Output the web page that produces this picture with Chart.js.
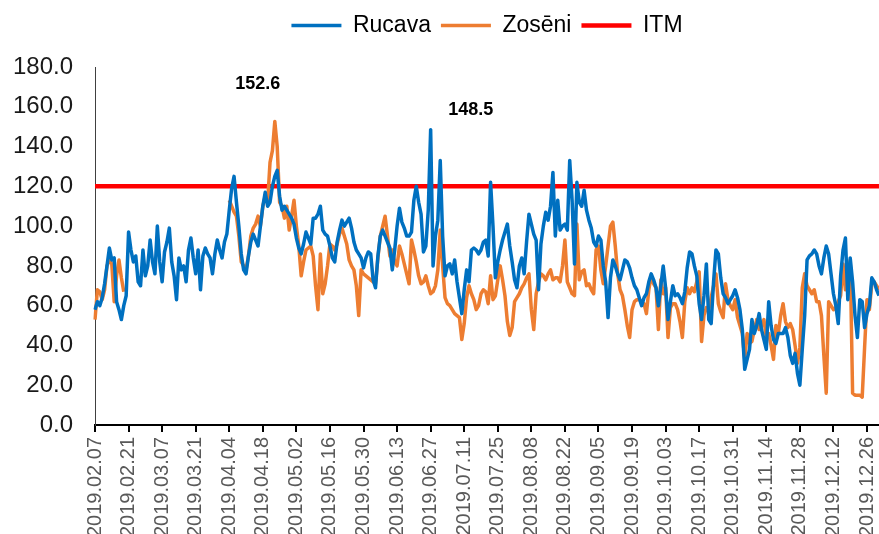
<!DOCTYPE html>
<html>
<head>
<meta charset="utf-8">
<script src="https://cdn.jsdelivr.net/npm/chart.js@4.4.0/dist/chart.umd.min.js"></script>
<style>
  html, body { margin: 0; padding: 0; overflow: hidden; background: #fff; }
</style>
</head>
<body>
<canvas id="myChart" width="896" height="545"></canvas>
<script>
// Daily values, 2019.02.07 onwards
const rucava = [
    58, 62, 60, 64, 71, 80, 89, 83, 84, 62,
    58, 53, 60, 65, 97, 88, 82, 85, 72, 70,
    88, 75, 80, 93, 82, 76, 100, 82, 72, 87,
    92, 99, 82, 75, 63, 84, 78, 80, 72, 88,
    94, 84, 76, 88, 68, 85, 89, 86, 84, 76,
    86, 93, 88, 84, 92, 96, 108, 119, 125, 112,
    100, 86, 78, 76, 85, 92, 96, 93, 90, 100,
    110, 117, 110, 112, 120, 125, 128, 115, 108, 110,
    108, 106, 104, 101, 94, 89, 86, 91, 97, 94,
    91, 104, 104, 106, 110, 98, 96, 95, 90, 84,
    82, 92, 98, 103, 100, 102, 104, 99, 92, 88,
    86, 84, 79, 84, 87, 86, 73, 69, 85, 95,
    98, 95, 92, 89, 78, 88, 100, 109, 102, 99,
    95, 95, 97, 113, 120, 112, 106, 87, 90, 108,
    148.5, 80, 95, 103, 133, 95, 75, 80, 81, 76,
    83, 72, 64, 56, 68, 78, 72, 88, 89, 88,
    86, 88, 92, 93, 85, 122, 100, 74, 82, 88,
    93, 97, 101, 90, 82, 73, 69, 80, 84, 76,
    92, 106, 101, 96, 93, 68, 91, 100, 107, 103,
    110, 127, 95, 113, 98, 100, 101, 98, 133, 113,
    81, 122, 112, 110, 118, 108, 103, 99, 92, 90,
    95, 93, 80, 72, 54, 74, 83, 80, 76, 73,
    78, 83, 82, 79, 74, 70, 68, 64, 60, 64,
    66, 72, 76, 73, 69, 60, 70, 80, 69, 53,
    62, 70, 65, 66, 64, 61, 67, 79, 87, 86,
    80, 75, 61, 53, 65, 81, 53, 51, 72, 88,
    86, 74, 66, 64, 61, 63, 65, 68, 64, 58,
    48, 28, 33, 38, 53, 46, 50, 56, 48, 43,
    38, 62, 50, 43, 41, 46, 46, 46, 49, 44,
    35, 31, 36, 26, 20, 38, 55, 83, 85, 86,
    88, 86, 80, 76, 84, 90, 86, 76, 66, 60,
    51, 75, 88, 94, 63, 84, 72, 55, 44, 63,
    62, 49, 56, 60, 74, 72, 68, 65
];

const zoseni = [
    53, 68, 67, 63, 68, 80, 83, 81, 62, 75,
    83, 74, 67, null, null, null, null, null, null, null,
    null, null, null, null, null, null, null, null, null, null,
    null, null, null, null, null, null, null, null, null, null,
    null, null, null, null, null, null, null, null, null, null,
    null, null, null, null, null, null, 113, 110, 107, 105,
    95, 82, 80, 78, 85, 95, 99, 101, 105, 100,
    110, 115, 112, 132, 138, 152.6, 140, 112, 110, 104,
    110, 98, 105, 113, 100, 90, 75, 82, 88, 89,
    90, 85, 70, 58, 86, 66, 71, 80, 91, 90,
    88, 91, 96, 99, 95, 91, 83, 80, 78, 70,
    55, 78, 76, 75, 74, 73, 72, 71, 84, 95,
    100, 105, 95, 85, 88, 82, 80, 90, 86, 81,
    76, 71, 93, 88, 82, 75, 71, 72, 75, 70,
    66, 67, 70, 78, 98, 80, 64, 61, 60, 58,
    56, 55, 54, 43, 51, 64, 70, 66, 63, 58,
    60, 66, 68, 67, 61, 75, 63, 65, 73, 80,
    73, 65, 52, 45, 49, 62, 64, 66, 69, 71,
    74, 76, 58, 48, 66, 72, 76, 75, 73, 76,
    78, 73, 74, 74, 72, 80, 93, 72, 69, 66,
    65, 101, 73, 77, 78, 70, 71, 68, 66, 88,
    90, 78, 71, 80, 90, 100, 102, 90, 76, 68,
    65, 58, 50, 44, 58, 62, 63, 63, 62, 61,
    56, 68, 75, 71, 69, 48, 73, 66, 69, 44,
    59, 61, 61, 58, 52, 44, 62, 69, 66, 69,
    67, 72, 77, 42, 55, 59, 58, 64, 70, 76,
    61, 57, 54, 71, 63, 60, 58, 63, 54, 50,
    46, 33, 46, 41, 42, 48, 53, 48, 50, 53,
    44, 46, 40, 33, 50, 46, 55, 61, 52, 49,
    51, 48, 40, 31, 39, 69, 76, 70, 68, 66,
    68, 62, 62, 55, 35, 16, 62, 60, 58, 59,
    62, 65, 81, 68, 72, 83, 16, 15, 15, 15,
    14, 39, 63, 58, 71, 72, 70, 68
];

const itmLevel = 120;
const seriesNames = ['Rucava', 'Zosēni', 'ITM'];
const seriesColors = ['#0070C0', '#ED7D31', '#FF0000'];
const tickEvery = 14; // one label every two weeks

// Build date labels like 2019.02.07
const dates = rucava.map((v, i) => {
    const d = new Date(2019, 1, 7 + i);
    const month = (d.getMonth() + 1).toString().padStart(2, '0');
    const day = d.getDate().toString().padStart(2, '0');
    return `${d.getFullYear()}.${month}.${day}`;
});

// Peak value labels (which point, and where the text sits relative to it)
const peakLabels = [
    { dataset: 1, index: 75, dx: -17, dy: -37 },
    { dataset: 0, index: 140, dx: 40, dy: -20 }
];

const legendDy = -20;

const legendShift = {
    id: 'legendShift',
    afterLayout(chart) {
        const lg = chart.legend;
        const area = chart.chartArea;
        const dx = (area.left + area.right) / 2 - (lg.left + lg.right) / 2;
        lg.left += dx;
        lg.right += dx;
        lg.top += legendDy;
        lg.bottom += legendDy;
    }
};

const peakText = {
    id: 'peakText',
    afterDatasetsDraw(chart) {
        const ctx = chart.ctx;
        ctx.save();
        ctx.font = 'bold 18px "Liberation Sans", Arial, sans-serif';
        ctx.fillStyle = '#000';
        ctx.textAlign = 'center';
        ctx.textBaseline = 'middle';
        peakLabels.forEach(p => {
            const pt = chart.getDatasetMeta(p.dataset).data[p.index];
            const value = chart.data.datasets[p.dataset].data[p.index];
            ctx.fillText(value.toFixed(1), pt.x + p.dx, pt.y + p.dy);
        });
        ctx.restore();
    }
};

const ctx = document.getElementById('myChart').getContext('2d');

new Chart(ctx, {
    type: 'line',
    data: {
        labels: dates,
        datasets: [{
            label: seriesNames[0],
            data: rucava,
            borderColor: seriesColors[0],
            backgroundColor: seriesColors[0],
            borderWidth: 3.5
        }, {
            label: seriesNames[1],
            data: zoseni,
            borderColor: seriesColors[1],
            backgroundColor: seriesColors[1],
            borderWidth: 3.5
        }, {
            label: seriesNames[2],
            data: dates.map(() => itmLevel),
            borderColor: seriesColors[2],
            backgroundColor: seriesColors[2],
            borderWidth: 4.5
        }]
    },
    options: {
        responsive: false,
        animation: false,
        events: [],
        elements: {
            point: { radius: 0, pointStyle: 'line' },
            line: { tension: 0, borderJoinStyle: 'round' }
        },
        layout: {
            padding: { top: 24, right: 0, bottom: 0, left: 0 }
        },
        plugins: {
            legend: {
                position: 'top',
                labels: {
                    usePointStyle: true,
                    pointStyle: 'line',
                    pointStyleWidth: 50,
                    padding: 10,
                    color: '#000',
                    font: { size: 23, family: '"Liberation Sans", Arial, sans-serif' }
                }
            },
            tooltip: { enabled: false }
        },
        scales: {
            x: {
                afterBuildTicks: (scale) => {
                    scale.ticks = scale.ticks.filter(t => t.value % tickEvery === 0);
                },
                afterFit: (scale) => { scale.height = 120; },
                grid: {
                    drawOnChartArea: false,
                    drawTicks: true,
                    tickLength: 7,
                    color: '#000',
                    lineWidth: 2
                },
                border: { display: true, color: '#000', width: 2 },
                ticks: {
                    autoSkip: false,
                    minRotation: 90,
                    maxRotation: 90,
                    padding: 5,
                    color: '#595959',
                    font: { size: 20, family: '"Liberation Sans", Arial, sans-serif' }
                }
            },
            y: {
                min: 0,
                max: 180,
                afterFit: (scale) => { scale.width = 95; },
                grid: { display: false, drawTicks: false },
                border: { display: true, color: '#404040', width: 1 },
                ticks: {
                    stepSize: 20,
                    padding: 22,
                    color: '#1a1a1a',
                    font: { size: 24, family: '"Liberation Sans", Arial, sans-serif' },
                    callback: (v) => v.toFixed(1)
                }
            }
        }
    },
    plugins: [legendShift, peakText]
});
</script>
</body>
</html>
